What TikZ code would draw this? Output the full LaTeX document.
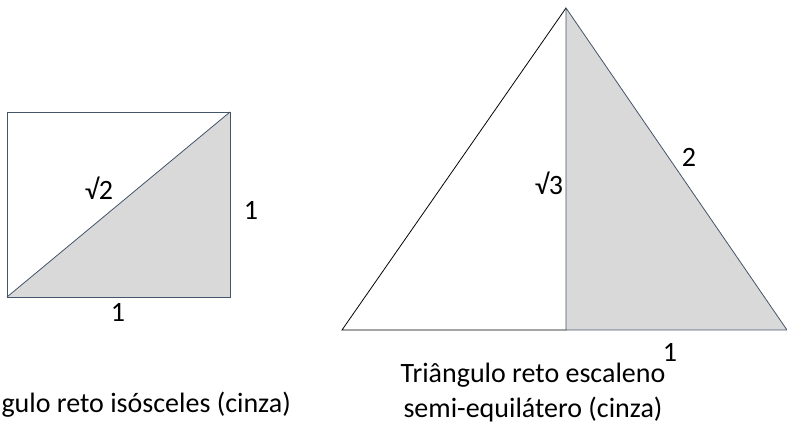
\documentclass[tikz,border=0pt]{standalone}
\usepackage{fontspec}
\setmainfont{Carlito}
\definecolor{edgecol}{HTML}{44546A}
\definecolor{grayfill}{HTML}{D9D9D9}
\begin{document}
\begin{tikzpicture}[x=1pt,y=1pt,
  lbl/.style={font=\fontsize{28}{34}\selectfont, inner sep=0pt},
  captext/.style={font=\fontsize{28}{35}\selectfont, inner sep=0pt, align=center},
  thinline/.style={line width=0.8pt}]
\useasboundingbox (0,0) rectangle (787,425);
% square
\coordinate (A) at (7,128);
\coordinate (B) at (230,128);
\coordinate (C) at (230,313);
\coordinate (D) at (7,313);
\fill[grayfill] (A) -- (B) -- (C) -- cycle;
\draw[edgecol, thinline] (A) -- (B) -- (C) -- (D) -- cycle;
\draw[edgecol, thinline] (A) -- (C);
\node[lbl] (s2) at (99,237) {√2};
\node[lbl] (r1) at (251,215) {1};
\node[lbl] (b1) at (118,113) {1};
\node[lbl, anchor=east] (capL) at (291,20) {gulo reto isósceles (cinza)};
% triangle
\coordinate (P) at (566,417);
\coordinate (L) at (342,95);
\coordinate (M) at (566,95);
\coordinate (R) at (787,95);
\fill[grayfill] (P) -- (M) -- (R) -- cycle;
\draw[black, thinline] (P) -- (L) -- (M);
\draw[edgecol, thinline] (P) -- (R) -- (M) -- cycle;
\node[lbl] (s3) at (549,242) {√3};
\node[lbl] (t2) at (689,268) {2};
\node[lbl] (t1) at (670,73) {1};
\node[captext] (capR) at (533,32) {Triângulo reto escaleno\\semi-equilátero (cinza)};
\end{tikzpicture}
\end{document}
